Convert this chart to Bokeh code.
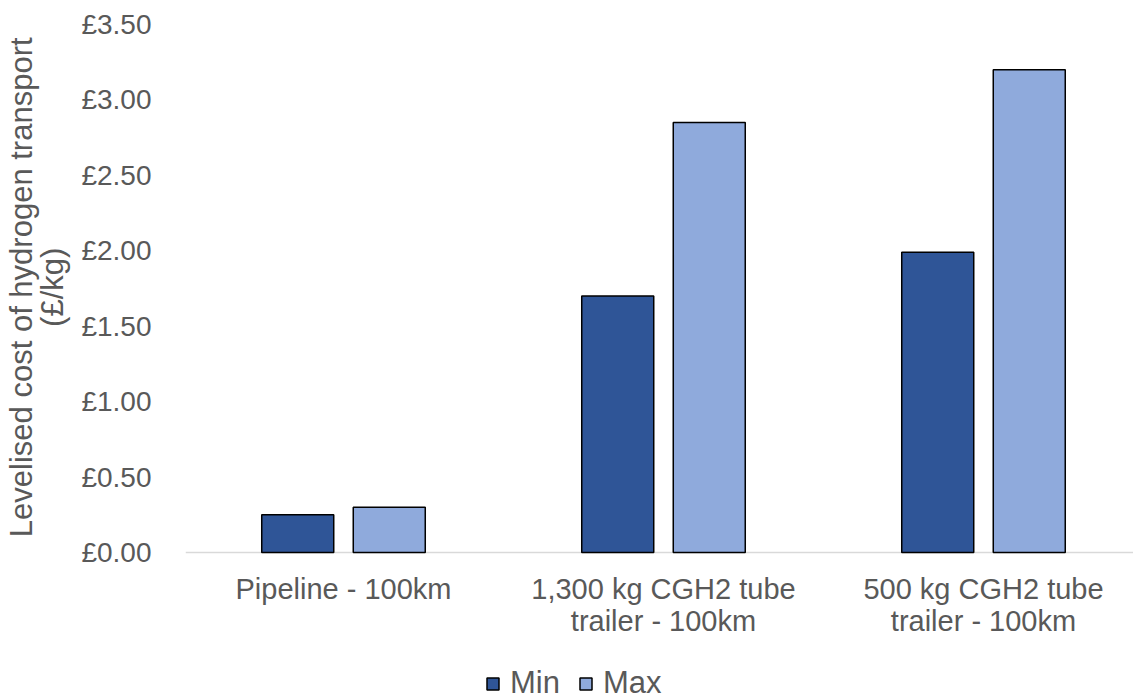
from bokeh.plotting import figure
from bokeh.models import Range1d, FixedTicker, PrintfTickFormatter, Legend, LegendItem, ColumnDataSource, Span
from bokeh.core.properties import value
from bokeh.embed import file_html
from bokeh.resources import INLINE

categories = ["Pipeline - 100km", "1,300 kg CGH2 tube\ntrailer - 100km", "500 kg CGH2 tube\ntrailer - 100km"]
min_values = [0.25, 1.70, 1.99]
max_values = [0.30, 2.85, 3.20]
y_ticks = [0.0, 0.5, 1.0, 1.5, 2.0, 2.5, 3.0, 3.5]

FONT = "Liberation Sans"
GREY = "#595959"

idx = [i + 0.5 for i in range(len(categories))]
src_min = ColumnDataSource(dict(x=[v - 0.143 for v in idx], top=min_values))
src_max = ColumnDataSource(dict(x=[v + 0.143 for v in idx], top=max_values))
src_cat = ColumnDataSource(dict(x=idx, y=[0.0] * len(idx), text=categories))

# frame extends below zero to hold category labels and legend (528 px for 3.5 units; 144 px below)
y_bottom = -144 / 528 * 3.5

p = figure(width=1133, height=696, output_backend="svg", toolbar_location=None,
           x_axis_location=None,
           x_range=Range1d(0.00625, 2.96875), y_range=Range1d(y_bottom, 3.5),
           min_border_left=185, min_border_right=0, min_border_top=24, min_border_bottom=0)
p.outline_line_color = None
p.xgrid.visible = False
p.ygrid.visible = False

r1 = p.vbar(x="x", top="top", width=0.225, source=src_min, fill_color="#2F5597", line_color="black", line_width=1.5)
r2 = p.vbar(x="x", top="top", width=0.225, source=src_max, fill_color="#8FAADC", line_color="black", line_width=1.5)

p.add_layout(Span(location=0, dimension="width", line_color="#d9d9d9", line_width=1.5, level="underlay"))

p.text(x="x", y="y", text="text", source=src_cat, text_align="center", text_baseline="top",
       y_offset=20, text_font=value(FONT), text_font_size="29px", text_color=GREY, text_line_height=1.0)

p.yaxis.ticker = FixedTicker(ticks=y_ticks)
p.yaxis.formatter = PrintfTickFormatter(format="£%.2f")
p.yaxis.axis_line_color = None
p.yaxis.major_tick_line_color = None
p.yaxis.minor_tick_line_color = None
p.yaxis.major_label_text_font = FONT
p.yaxis.major_label_text_font_size = "28px"
p.yaxis.major_label_text_color = GREY
p.yaxis.major_label_standoff = 28
pad = "\u00a0" * 17
p.yaxis.axis_label = pad + "Levelised cost of hydrogen transport\n" + pad + "(£/kg)"
p.yaxis.axis_label_text_font = FONT
p.yaxis.axis_label_text_font_size = "31px"
p.yaxis.axis_label_text_font_style = "normal"
p.yaxis.axis_label_text_color = GREY
p.yaxis.axis_label_text_line_height = 0.9
p.yaxis.axis_label_standoff = 8

legend = Legend(items=[LegendItem(label="Min", renderers=[r1]), LegendItem(label="Max", renderers=[r2])],
                orientation="horizontal", location=(300, -5),
                label_text_font=FONT, label_text_font_size="31px", label_text_color=GREY,
                label_text_line_height=0.8, label_height=24,
                glyph_width=15, glyph_height=15, spacing=18, border_line_color=None,
                background_fill_alpha=0, margin=0, padding=0, label_standoff=10)
p.add_layout(legend, "center")

open("out.html", "w").write(file_html(p, INLINE))
